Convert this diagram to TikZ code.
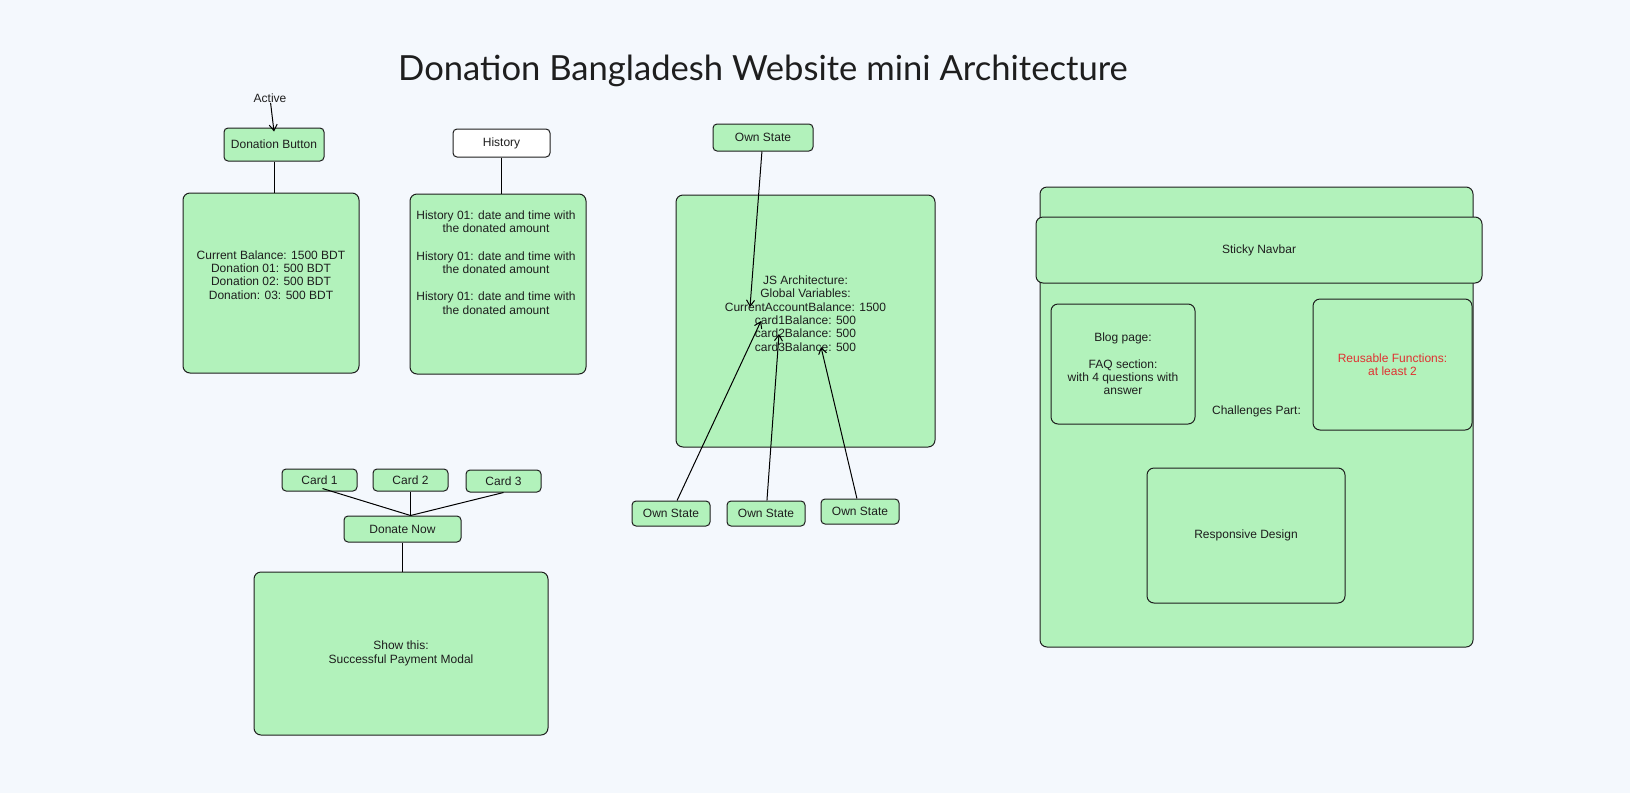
\documentclass[tikz,border=0pt]{standalone}
\usepackage{fontspec}
\setmainfont{Liberation Sans}
\newfontfamily\titlefont{Lato}
\usetikzlibrary{arrows.meta,positioning}

\definecolor{bgcol}{HTML}{F4F8FD}
\definecolor{boxgreen}{HTML}{B2F2BB}
\definecolor{inkcol}{HTML}{1E1E1E}
\definecolor{redink}{HTML}{E03131}

\tikzset{
  txt/.style={font=\fontsize{12}{13.3}\selectfont, align=center, text=inkcol, inner sep=0pt},
  card/.style={txt, draw=inkcol, fill=boxgreen, rounded corners=4pt, line width=1pt},
  panel/.style={card, rounded corners=7pt},
}

\begin{document}
\begin{tikzpicture}[x=1pt, y=-1pt, >={Straight Barb[length=6pt,width=8pt]}, line width=1pt]
  \fill[bgcol] (0,0) rectangle (1630,793);
  \node[font=\titlefont\fontsize{34.6}{40}\selectfont, text=inkcol] (title) at (763,71) {Donation Bangladesh Website mini Architecture};

  % donation button and balance
  \node[txt] (active) at (270,98) {Active};
  \node[card, minimum width=100pt, minimum height=33pt] (btn) at (274,144.5) {Donation Button};
  \node[panel, minimum width=176pt, minimum height=180pt,
    label={[txt, yshift=8pt]center:{Current Balance: 1500 BDT\\Donation 01: 500 BDT\\Donation 02: 500 BDT\\Donation: 03: 500 BDT}}] (balance) at (271,283) {};
  \path[->] (active) edge ([yshift=-4pt]btn.north);
  \draw (btn.south) -- (btn.south |- balance.north);

  % history
  \node[card, fill=white, minimum width=97pt, minimum height=28pt] (histbtn) at (501.5,143) {History};
  \node[panel, minimum width=176pt, minimum height=180pt,
    label={[txt, xshift=-2pt, yshift=21.5pt]center:{History 01: date and time with\\the donated amount\\[14pt]History 01: date and time with\\the donated amount\\[14pt]History 01: date and time with\\the donated amount}}] (hist) at (498,284) {};
  \draw (histbtn.south) -- (histbtn.south |- hist.north);

  % cards and modal
  \node[card, minimum width=75pt, minimum height=22pt] (card1) at (319.5,480) {Card 1};
  \node[card, minimum width=75pt, minimum height=22pt] (card2) at (410.5,480) {Card 2};
  \node[card, minimum width=75pt, minimum height=22pt] (card3) at (503.5,481) {Card 3};
  \node[card, minimum width=117pt, minimum height=26pt] (donate) at (402.5,529) {Donate Now};
  \node[panel, minimum width=294pt, minimum height=163pt] (modal) at (401,653.5) {Show this:\\Successful Payment Modal};
  \coordinate (join) at ([xshift=8pt]donate.north);
  \draw ([xshift=3pt,yshift=3pt]card1.south) -- (join);
  \draw (card2.south) -- (join);
  \draw (card3.south) -- (join);
  \draw (donate.south) -- (donate.south |- modal.north);

  % js architecture
  \node[card, minimum width=100pt, minimum height=27pt] (ownTop) at (763,137.5) {Own State};
  \node[panel, minimum width=259pt, minimum height=252pt,
    label={[txt, yshift=7.5pt]center:{JS Architecture:\\Global Variables:\\CurrentAccountBalance: 1500\\card1Balance: 500\\card2Balance: 500\\card3Balance: 500}}] (js) at (805.5,321) {};
  \node[card, minimum width=78pt, minimum height=25pt] (own1) at (671,513.5) {Own State};
  \node[card, minimum width=78pt, minimum height=25pt] (own2) at (766,513.5) {Own State};
  \node[card, minimum width=78pt, minimum height=25pt] (own3) at (860,511.5) {Own State};
  \coordinate (jsa) at (750,307);
  \coordinate (jsb) at (761,321);
  \coordinate (jsc) at (779,334);
  \coordinate (jsd) at (821,347);
  \path[->]
  (ownTop) edge (jsa)
  (own1) edge (jsb)
  (own2) edge (jsc)
  (own3) edge (jsd);

  % challenges part
  \node[panel, minimum width=433pt, minimum height=460pt,
    label={[txt, yshift=6pt]center:Challenges Part:}] (chal) at (1256.5,417) {};
  \node[panel, minimum width=446pt, minimum height=66pt] (nav) at (1259,250) {Sticky Navbar};
  \node[panel, minimum width=144pt, minimum height=120pt] (blog) at (1123,364) {Blog page:\\[13.3pt]FAQ section:\\with 4 questions with\\answer};
  \node[panel, text=redink, minimum width=159pt, minimum height=131pt] (reuse) at (1392.5,364.5) {Reusable Functions:\\at least 2};
  \node[panel, minimum width=198pt, minimum height=135pt] (resp) at (1246,535.5) {Responsive Design};
\end{tikzpicture}
\end{document}
